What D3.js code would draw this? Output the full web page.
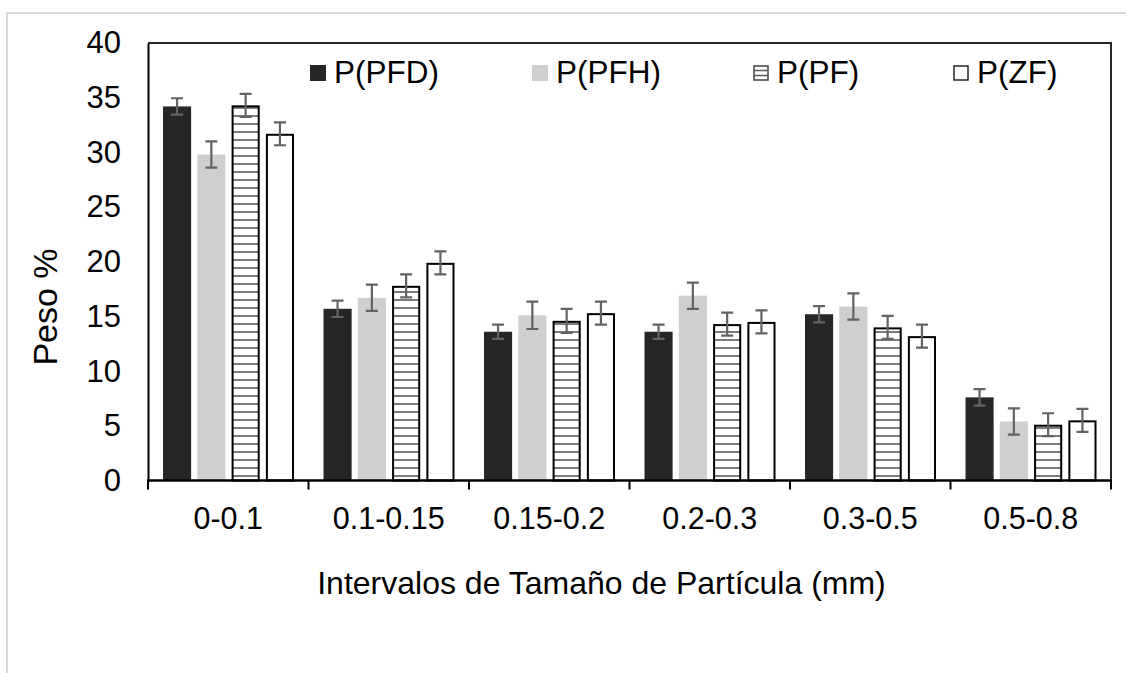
<!DOCTYPE html>
<html>
<head>
<meta charset="utf-8">
<script src="https://cdn.jsdelivr.net/npm/d3@7"></script>
<style>
  html, body { margin: 0; padding: 0; background: #fff; }
  svg { display: block; }
  text { font-family: "Liberation Sans", Arial, sans-serif; fill: #000; }
</style>
</head>
<body>
<svg id="chart" width="1126" height="673"></svg>
<script>
// Particle size intervals (mm)
const categories = ["0-0.1", "0.1-0.15", "0.15-0.2", "0.2-0.3", "0.3-0.5", "0.5-0.8"];
const seriesNames = ["P(PFD)", "P(PFH)", "P(PF)", "P(ZF)"];

// Weight % per interval, one array per series
const valuesPFD = [34.2, 15.7, 13.6, 13.6, 15.2, 7.6];
const valuesPFH = [29.8, 16.7, 15.1, 16.9, 15.9, 5.4];
const valuesPF  = [34.3, 17.8, 14.6, 14.3, 14.0, 5.1];
const valuesZF  = [31.7, 19.9, 15.3, 14.5, 13.2, 5.5];

// Standard deviations (error bars)
const errPFD = [0.75, 0.75, 0.65, 0.65, 0.75, 0.75];
const errPFH = [1.2, 1.2, 1.25, 1.2, 1.2, 1.2];
const errPF  = [1.05, 1.05, 1.1, 1.05, 1.05, 1.05];
const errZF  = [1.05, 1.05, 1.05, 1.05, 1.05, 1.05];

const yTicks = [0, 5, 10, 15, 20, 25, 30, 35, 40];

const series = [
  { name: seriesNames[0], values: valuesPFD, errs: errPFD, style: "solidDark" },
  { name: seriesNames[1], values: valuesPFH, errs: errPFH, style: "solidLight" },
  { name: seriesNames[2], values: valuesPF,  errs: errPF,  style: "hatch" },
  { name: seriesNames[3], values: valuesZF,  errs: errZF,  style: "outline" }
];

const svg = d3.select("#chart");
const W = 1126, H = 673;
const plot = { left: 148, top: 43, right: 1111, bottom: 480.5 };

// outer chart frame
svg.append("rect")
  .attr("x", 7).attr("y", 13)
  .attr("width", W).attr("height", H)
  .attr("fill", "none").attr("stroke", "#d9d9d9").attr("stroke-width", 2);

const defs = svg.append("defs");
const pat = defs.append("pattern")
  .attr("id", "hlines")
  .attr("patternUnits", "userSpaceOnUse")
  .attr("width", 8).attr("height", 8);
pat.append("rect").attr("width", 8).attr("height", 8).attr("fill", "#fff");
pat.append("line")
  .attr("x1", 0).attr("x2", 8).attr("y1", 4).attr("y2", 4)
  .attr("stroke", "#5a5a5a").attr("stroke-width", 1.6);

const x0 = d3.scaleBand().domain(categories).range([plot.left, plot.right]).paddingInner(0).paddingOuter(0);
const x1 = d3.scaleBand().domain(seriesNames).range([15, x0.bandwidth() - 14.5]).paddingInner(0.18).paddingOuter(0);
const y = d3.scaleLinear().domain([0, 40]).range([plot.bottom, plot.top]);

function fillFor(style) {
  if (style === "solidDark") return "#262626";
  if (style === "solidLight") return "#d0cece";
  if (style === "hatch") return "url(#hlines)";
  return "#fff";
}
function strokeFor(style) {
  return (style === "hatch" || style === "outline") ? "#000" : "none";
}

// bars
series.forEach(s => {
  const g = svg.append("g");
  const bw = x1.bandwidth();
  const outlined = strokeFor(s.style) !== "none";
  g.selectAll("rect")
    .data(categories.map((c, i) => ({ c, v: s.values[i], e: s.errs[i] })))
    .join("rect")
    .attr("x", d => x0(d.c) + x1(s.name) + (outlined ? 1 : 0))
    .attr("y", d => y(d.v) + (outlined ? 1 : 0))
    .attr("width", bw - (outlined ? 2 : 0))
    .attr("height", d => y(0) - y(d.v) - (outlined ? 1 : 0))
    .attr("fill", fillFor(s.style))
    .attr("stroke", strokeFor(s.style))
    .attr("stroke-width", 2);
});

// plot frame (top and right) and axes
svg.append("path")
  .attr("d", `M${plot.left},${plot.top}H${plot.right}V${plot.bottom}`)
  .attr("fill", "none").attr("stroke", "#262626").attr("stroke-width", 2);

const yAxis = d3.axisLeft(y).tickValues(yTicks).tickSize(0).tickPadding(27);
const gy = svg.append("g").attr("transform", `translate(${plot.left},0)`).call(yAxis);
gy.select(".domain").attr("stroke", "#000").attr("stroke-width", 2);
gy.selectAll("text").attr("font-size", 31).attr("font-family", "Liberation Sans, Arial, sans-serif").attr("fill", "#000");

const gx = svg.append("g").attr("transform", `translate(0,${plot.bottom})`);
gx.append("line").attr("x1", plot.left - 1).attr("x2", plot.right + 1)
  .attr("stroke", "#000").attr("stroke-width", 2.5);
const boundaries = categories.map(c => x0(c)).concat([plot.right]);
gx.selectAll("line.tick").data(boundaries).join("line")
  .attr("class", "tick")
  .attr("x1", d => d).attr("x2", d => d).attr("y1", 0).attr("y2", 9)
  .attr("stroke", "#000").attr("stroke-width", 2);
gx.selectAll("text").data(categories).join("text")
  .attr("x", d => x0(d) + x0.bandwidth() / 2)
  .attr("y", 48)
  .attr("text-anchor", "middle")
  .attr("font-size", 30.5)
  .text(d => d);

// error bars
series.forEach(s => {
  const g = svg.append("g").attr("stroke", "#636363").attr("stroke-width", 2.2).attr("fill", "none");
  categories.forEach((c, i) => {
    const cx = x0(c) + x1(s.name) + x1.bandwidth() / 2;
    const hi = y(s.values[i] + s.errs[i]);
    const lo = y(s.values[i] - s.errs[i]);
    g.append("path").attr("d", `M${cx},${hi}V${lo}M${cx - 6},${hi}H${cx + 6}M${cx - 6},${lo}H${cx + 6}`);
  });
});

// axis titles
svg.append("text")
  .attr("x", 601.5).attr("y", 594)
  .attr("text-anchor", "middle").attr("font-size", 32)
  .text("Intervalos de Tamaño de Partícula (mm)");
svg.append("text")
  .attr("transform", "translate(57,307) rotate(-90)")
  .attr("text-anchor", "middle").attr("font-size", 34)
  .text("Peso %");

// legend
const legendX = [310, 532, 753, 953];
const legend = svg.append("g");
series.forEach((s, i) => {
  const g = legend.append("g").attr("transform", `translate(${legendX[i]},65)`);
  const outlined = strokeFor(s.style) !== "none";
  if (s.style === "hatch") {
    g.append("rect").attr("x", 1).attr("y", 1).attr("width", 14).attr("height", 14)
      .attr("fill", "#fff").attr("stroke", "#404040").attr("stroke-width", 1.5);
    [5.5, 10.5].forEach(ly => g.append("line").attr("x1", 1).attr("x2", 15).attr("y1", ly).attr("y2", ly)
      .attr("stroke", "#5a5a5a").attr("stroke-width", 1.5));
  } else {
    g.append("rect")
      .attr("x", outlined ? 1 : 0).attr("y", outlined ? 1 : 0)
      .attr("width", outlined ? 14 : 16).attr("height", outlined ? 14 : 16)
      .attr("fill", fillFor(s.style))
      .attr("stroke", outlined ? "#262626" : "none").attr("stroke-width", 1.5);
  }
  g.append("text").attr("x", 24).attr("y", 18).attr("font-size", 31.5).text(s.name);
});
</script>
</body>
</html>
